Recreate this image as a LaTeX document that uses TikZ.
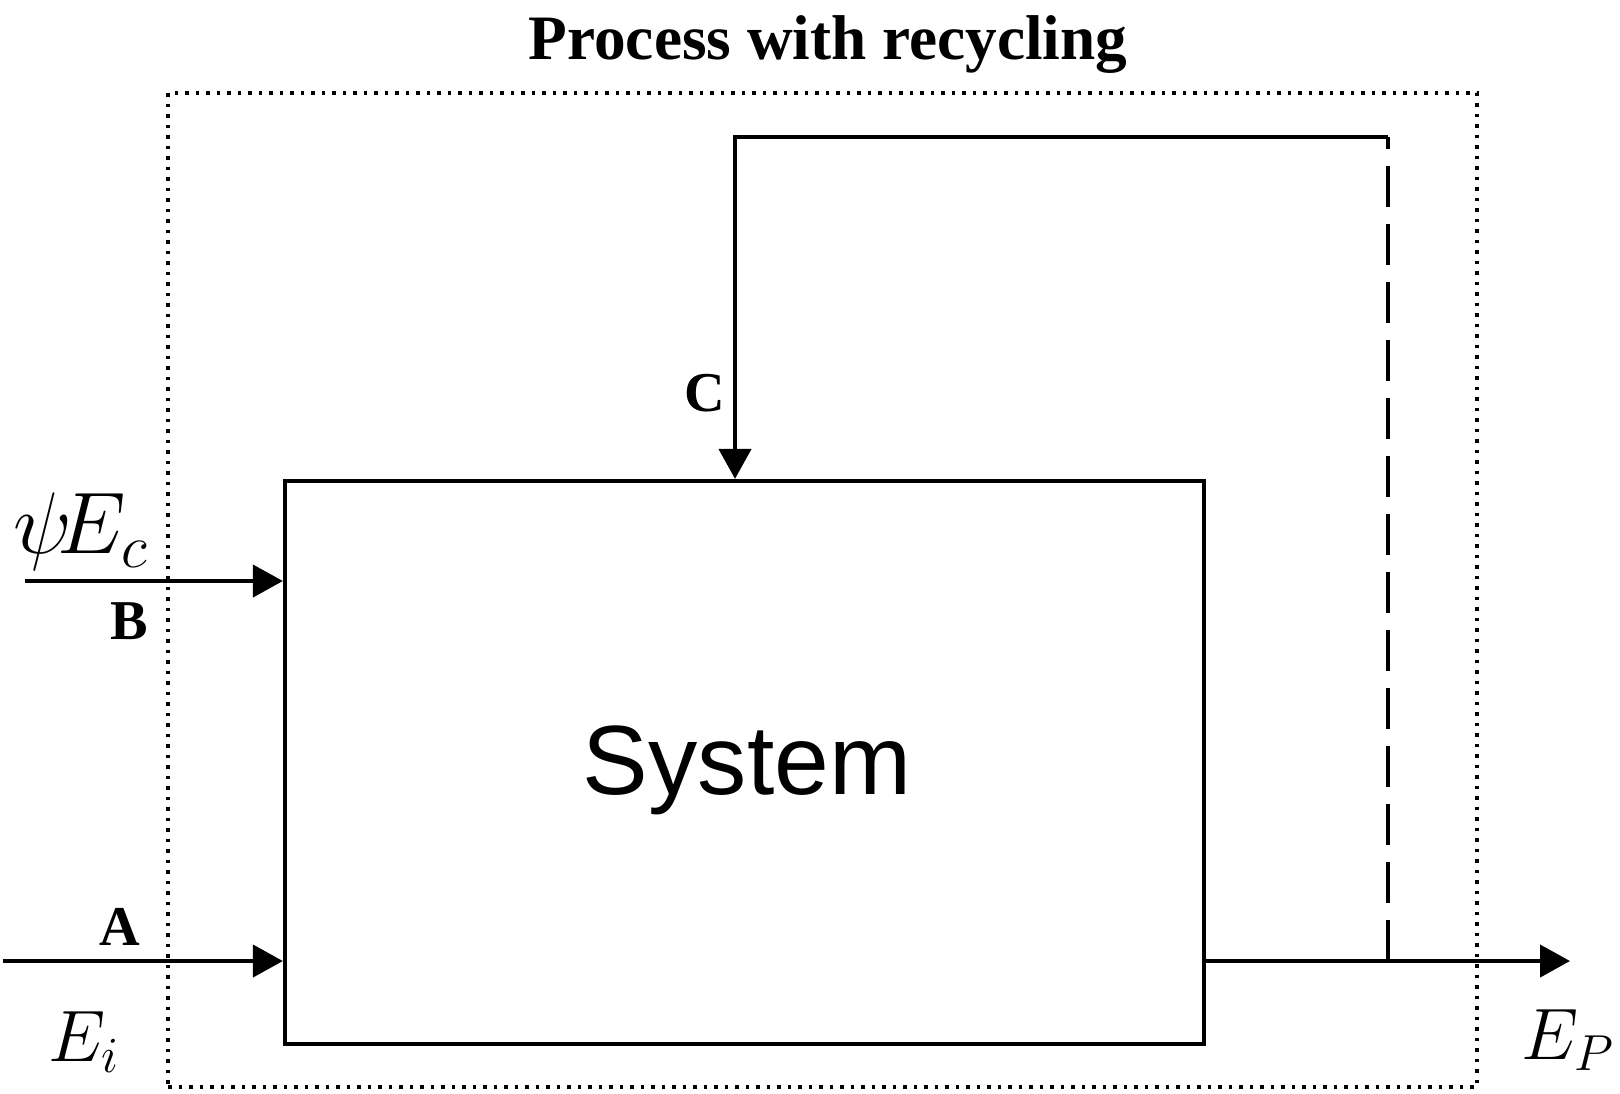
\documentclass[tikz,border=0pt]{standalone}
\usepackage{amsmath,amssymb}
\usepackage{fontspec}
\setmainfont{Liberation Serif}
\newfontfamily\sysfont{Liberation Sans}
\usetikzlibrary{arrows.meta,positioning}

\begin{document}
\begin{tikzpicture}[
        block/.style={rectangle, draw, line width=1.2pt, minimum width=9.19cm, minimum height=5.63cm, font=\sysfont\fontsize{28}{28}\selectfont},
        frame/.style={rectangle, draw, line width=1.1pt, dash pattern=on 0.035cm off 0.07cm, minimum width=13.09cm, minimum height=9.94cm},
        tag/.style={font=\bfseries\fontsize{16}{16}\selectfont},
        flow/.style={font=\fontsize{21}{21}\selectfont},
        line/.style={draw, line width=1.2pt, -{Triangle[length=0.3cm, width=0.32cm]}},
        recycle/.style={draw, line width=1.2pt, dash pattern=on 0.41cm off 0.17cm}
    ]
    \useasboundingbox (0,0) rectangle (16.2,-10.93);
    \node [frame] (process) at (8.225,-5.90) {};
    \node [font=\bfseries\fontsize{18}{18}\selectfont] (title) at (8.28,-0.45) {Process with recycling};
    \node [block] (system) at (7.445,-7.625) {};
    \node [font=\sysfont\fontsize{28}{28}\selectfont] (systext) at (7.47,-7.70) {System};
    \coordinate (inA) at (0.03,-9.61);
    \coordinate (inB) at (0.25,-5.81);
    \coordinate (split) at (13.88,-9.61);
    \coordinate (corner) at (13.88,-1.37);
    \coordinate (back) at (7.35,-1.37);
    \coordinate (outP) at (15.70,-9.61);
    \path [line] (inA) -- (system.west |- inA);
    \path [line] (inB) -- (system.west |- inB);
    \path [line] (system.east |- outP) -- (outP);
    \path [recycle] (split) -- (corner);
    \path [line] (corner) -- (back) -- (back |- system.north);
    \node [tag] (labA) at (1.20,-9.27) {A};
    \node [tag] (labB) at (1.29,-6.21) {B};
    \node [tag] (labC) at (7.05,-3.93) {C};
    \node [flow] (Ei) at (0.84,-10.42) {$E_i$};
    \node [flow, font=\fontsize{23.5}{23.5}\selectfont] (psiEc) at (0.81,-5.32) {$\psi\!E_c$};
    \node [flow] (Ep) at (15.68,-10.40) {$E_P$};
\end{tikzpicture}
\end{document}
